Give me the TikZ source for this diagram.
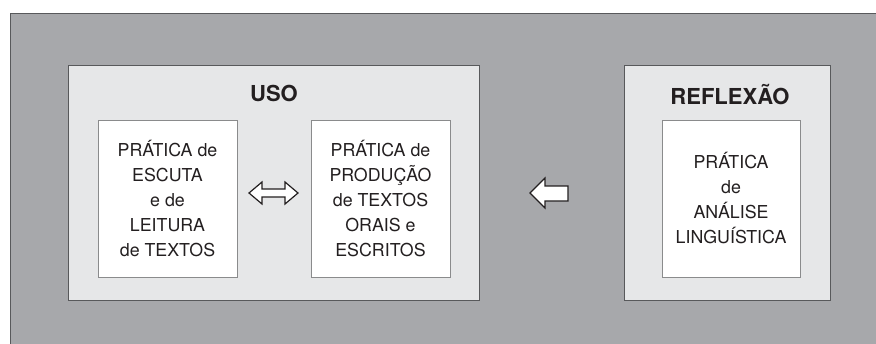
\documentclass[tikz,border=0pt]{standalone}
\usepackage{fontspec}
\setmainfont{TeX Gyre Heros}
\definecolor{fundo}{HTML}{A7A8AB}
\definecolor{claro}{HTML}{E6E7E8}
\definecolor{borda}{HTML}{58595B}
\definecolor{texto}{HTML}{231F20}
\tikzset{
  bloco/.style={draw=borda,fill=claro,line width=0.9pt,inner sep=0pt},
  caixa/.style={draw=borda!70,fill=white,line width=0.9pt,inner sep=0pt,
    minimum width=139pt,minimum height=157pt,align=center,text=texto,
    font=\fontsize{17.8}{25}\selectfont},
  titulo/.style={text=texto,font=\fontsize{22}{26}\selectfont\bfseries},
  seta/.style={draw=texto,fill=white,line width=1.2pt,line join=miter}
}
\begin{document}
\begin{tikzpicture}[x=1pt,y=-1pt]
    \useasboundingbox (0,0) rectangle (876,343);
    \fill[fundo] (10,13) rectangle (877,344);
    \draw[borda,line width=1pt] (10,344)--(10,13)--(877,13);
    % blocos
    \node[bloco,minimum width=411pt,minimum height=235pt] (uso) at (273.5,182.5) {};
    \node[bloco,minimum width=206pt,minimum height=235pt] (reflexao) at (727,182.5) {};
    \node[titulo] (tuso) at (274,93) {USO};
    \node[titulo] (treflexao) at (730,95) {REFLEXÃO};
    % caixas
    \node[caixa] (escuta) at (167.5,198.5) {PRÁTICA de\\ESCUTA\\e de\\LEITURA\\de TEXTOS};
    \node[caixa] (producao) at (380.5,198.5) {PRÁTICA de\\PRODUÇÃO\\de TEXTOS\\ORAIS e\\ESCRITOS};
    \node[caixa,minimum width=138pt] (analise) at (731,198.5) {PRÁTICA\\de\\ANÁLISE\\LINGUÍSTICA};
    % setas
    \draw[seta] (249,193)--(262,182)--(262,189)--(285,189)--(285,182)--(298,193)
        --(285,204)--(285,197)--(262,197)--(262,204)--cycle;
    \draw[seta] (530,193)--(545,178)--(545,186)--(568,186)--(568,201)--(545,201)--(545,208)--cycle;
\end{tikzpicture}
\end{document}
